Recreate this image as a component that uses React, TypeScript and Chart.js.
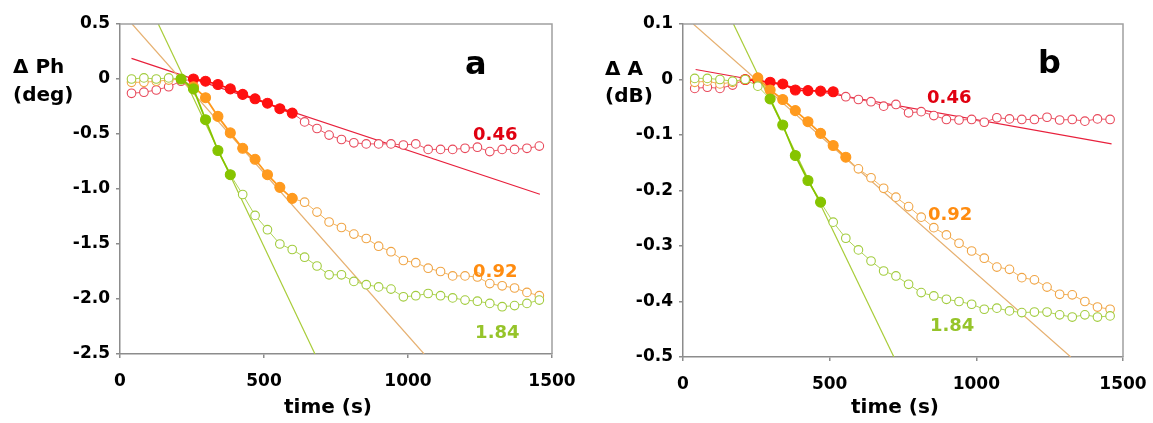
import React, { useEffect, useRef } from 'react';
import { Chart, registerables } from 'chart.js';

Chart.register(...registerables);

// ---------- data ----------
const times = [40, 83, 126, 169, 212, 255, 297, 340, 383, 426, 469, 512, 555, 598, 641, 684, 726, 769, 812, 855, 898, 941, 984, 1027, 1070, 1113, 1155, 1198, 1241, 1284, 1327, 1370, 1413, 1456];

const xTicks = [0, 500, 1000, 1500];
const yTicksA = [0.5, 0, -0.5, -1.0, -1.5, -2.0, -2.5];
const yTicksB = [0.1, 0, -0.1, -0.2, -0.3, -0.4, -0.5];

// panel a : phase change (deg)
const redA = [-0.13, -0.12, -0.10, -0.07, -0.02, 0.0, -0.02, -0.05, -0.09, -0.14, -0.18, -0.22, -0.27, -0.31,
  -0.39, -0.45, -0.51, -0.55, -0.58, -0.59, -0.59, -0.59, -0.60, -0.59, -0.64, -0.64, -0.64, -0.63, -0.62, -0.66, -0.64, -0.64, -0.63, -0.61];
const orangeA = [-0.03, -0.03, -0.02, -0.01, 0.0, -0.07, -0.17, -0.34, -0.49, -0.63, -0.73, -0.87, -0.985, -1.085,
  -1.12, -1.21, -1.30, -1.35, -1.41, -1.45, -1.52, -1.57, -1.65, -1.67, -1.72, -1.75, -1.79, -1.79, -1.80, -1.86, -1.88, -1.90, -1.94, -1.97];
const greenA = [0.0, 0.01, 0.0, 0.01, 0.0, -0.09, -0.37, -0.65, -0.87,
  -1.05, -1.24, -1.37, -1.50, -1.55, -1.62, -1.70, -1.78, -1.78, -1.84, -1.87, -1.89, -1.91, -1.98, -1.97, -1.95, -1.97, -1.99, -2.01, -2.02, -2.04, -2.07, -2.06, -2.04, -2.01];

const redFitRangeA = [5, 13];
const orangeFitRangeA = [5, 13];
const greenFitRangeA = [4, 8];

const redFitLineA = [[40, 0.188], [1458, -1.048]];
const orangeFitLineA = [[42, 0.5], [1056, -2.5]];
const greenFitLineA = [[133, 0.5], [677, -2.5]];

// panel b : amplitude change (dB)
const redB = [-0.016, -0.014, -0.016, -0.010, 0.0, -0.002, -0.005, -0.008, -0.019, -0.020, -0.021, -0.022,
  -0.031, -0.036, -0.040, -0.048, -0.045, -0.060, -0.058, -0.065, -0.072, -0.073, -0.072, -0.077, -0.069, -0.071, -0.072, -0.072, -0.068, -0.073, -0.072, -0.075, -0.071, -0.072];
const orangeB = [-0.005, -0.003, -0.008, -0.005, 0.0, 0.003, -0.019, -0.036, -0.056, -0.076, -0.097, -0.119, -0.140,
  -0.161, -0.177, -0.196, -0.212, -0.229, -0.248, -0.267, -0.280, -0.295, -0.309, -0.322, -0.338, -0.342, -0.357, -0.361, -0.374, -0.387, -0.388, -0.400, -0.410, -0.414];
const greenB = [0.002, 0.002, 0.0, -0.003, 0.0, -0.012, -0.035, -0.082, -0.137, -0.182, -0.221,
  -0.257, -0.286, -0.307, -0.327, -0.345, -0.354, -0.369, -0.384, -0.390, -0.396, -0.400, -0.405, -0.414, -0.412, -0.417, -0.420, -0.419, -0.419, -0.424, -0.428, -0.424, -0.428, -0.426];

const redFitRangeB = [4, 11];
const orangeFitRangeB = [5, 12];
const greenFitRangeB = [6, 10];

const redFitLineB = [[43, 0.018], [1461, -0.116]];
const orangeFitLineB = [[35, 0.1], [1322, -0.5]];
const greenFitLineB = [[172, 0.1], [719, -0.5]];

const seriesNames = ['0.46', '0.92', '1.84'];

// ---------- styles ----------
const RED = { filled: '#ff1010', open: '#e8485a', line: '#ea5a68', fit: '#e8203c', label: '#e00010' };
const ORANGE = { filled: '#ff9a1e', open: '#f0a444', line: '#f2b460', fit: '#e6b070', label: '#ff8c10' };
const GREEN = { filled: '#86c400', open: '#a2cc3e', line: '#b0d458', fit: '#a8cc38', label: '#96c42a' };

const FONT = '"DejaVu Sans", "Liberation Sans", Arial, sans-serif';
const AXIS = '#8c8c8c';

type Series = { values: number[]; range: number[]; fitLine: number[][]; style: typeof RED; order: number };
type Panel = {
  width: number; yWidth: number; padRight: number; padTop: number; xHeight: number;
  yMin: number; yMax: number; yTicks: number[];
  titleLines: { text: string; x: number; y: number }[];
  letter: { text: string; t: number; v: number };
  labelPos: { t: number; v: number }[];
  series: Series[];
};

const panelA: Panel = {
  width: 576, yWidth: 120, padRight: 24, padTop: 24, xHeight: 69,
  yMin: -2.5, yMax: 0.5, yTicks: yTicksA,
  titleLines: [{ text: '\u0394 Ph', x: 13, y: 73 }, { text: '(deg)', x: 13, y: 101 }],
  letter: { text: 'a', t: 1198, v: 0.05 },
  labelPos: [{ t: 1226, v: -0.555 }, { t: 1226, v: -1.80 }, { t: 1233, v: -2.355 }],
  series: [
    { values: redA, range: redFitRangeA, fitLine: redFitLineA, style: RED, order: 3 },
    { values: orangeA, range: orangeFitRangeA, fitLine: orangeFitLineA, style: ORANGE, order: 2 },
    { values: greenA, range: greenFitRangeA, fitLine: greenFitLineA, style: GREEN, order: 1 },
  ],
};

const panelB: Panel = {
  width: 577, yWidth: 107, padRight: 30, padTop: 24, xHeight: 66,
  yMin: -0.5, yMax: 0.1, yTicks: yTicksB,
  titleLines: [{ text: '\u0394 A', x: 29, y: 75 }, { text: '(dB)', x: 29, y: 102 }],
  letter: { text: 'b', t: 1210, v: 0.0114 },
  labelPos: [{ t: 832, v: -0.043 }, { t: 835, v: -0.254 }, { t: 842, v: -0.453 }],
  series: [
    { values: redB, range: redFitRangeB, fitLine: redFitLineB, style: RED, order: 3 },
    { values: orangeB, range: orangeFitRangeB, fitLine: orangeFitLineB, style: ORANGE, order: 2 },
    { values: greenB, range: greenFitRangeB, fitLine: greenFitLineB, style: GREEN, order: 1 },
  ],
};

function buildChart(canvas: HTMLCanvasElement, p: Panel) {
  const datasets: any[] = [];
  p.series.forEach((s) => {
    const isF = (i: number) => i >= s.range[0] && i <= s.range[1];
    datasets.push({
      type: 'line',
      data: times.map((t, i) => ({ x: t, y: s.values[i] })),
      borderColor: s.style.line,
      borderWidth: 1,
      tension: 0,
      fill: false,
      pointRadius: times.map((_, i) => (isF(i) ? 5 : 4.3)),
      pointHoverRadius: times.map((_, i) => (isF(i) ? 5 : 4.3)),
      pointBorderWidth: 1.1,
      pointBackgroundColor: times.map((_, i) => (isF(i) ? s.style.filled : '#ffffff')),
      pointBorderColor: times.map((_, i) => (isF(i) ? s.style.filled : s.style.open)),
      segment: {
        borderColor: (c: any) => (isF(c.p0DataIndex) && isF(c.p1DataIndex) ? s.style.filled : s.style.line),
        borderWidth: (c: any) => (isF(c.p0DataIndex) && isF(c.p1DataIndex) ? 1.8 : 1),
      },
      order: s.order,
    });
  });
  p.series.forEach((s) => {
    datasets.push({
      type: 'line',
      data: s.fitLine.map(([x, y]) => ({ x, y })),
      borderColor: s.style.fit,
      borderWidth: 1.2,
      pointRadius: 0,
      pointHoverRadius: 0,
      fill: false,
      order: 10 + s.order,
    });
  });

  const annot = {
    id: 'annot',
    afterDraw(chart: any) {
      const ctx = chart.ctx as CanvasRenderingContext2D;
      const { left, right, top, bottom } = chart.chartArea;
      const xs = chart.scales.x;
      const ys = chart.scales.y;
      ctx.save();
      ctx.strokeStyle = '#a0a0a0';
      ctx.lineWidth = 1.5;
      ctx.beginPath();
      ctx.moveTo(left, top);
      ctx.lineTo(right, top);
      ctx.lineTo(right, bottom);
      ctx.stroke();

      ctx.fillStyle = '#000';
      ctx.textBaseline = 'alphabetic';
      ctx.textAlign = 'left';
      ctx.font = `bold 20px ${FONT}`;
      p.titleLines.forEach((l) => ctx.fillText(l.text, l.x, l.y));

      ctx.textAlign = 'center';
      ctx.fillText('time (s)', (left + right) / 2 - 8, 413);

      ctx.textAlign = 'left';
      ctx.font = `bold 32px ${FONT}`;
      ctx.fillText(p.letter.text, xs.getPixelForValue(p.letter.t), ys.getPixelForValue(p.letter.v));

      ctx.font = `bold 18px ${FONT}`;
      p.series.forEach((s, k) => {
        ctx.fillStyle = s.style.label;
        const lp = p.labelPos[k];
        ctx.fillText(seriesNames[k], xs.getPixelForValue(lp.t), ys.getPixelForValue(lp.v));
      });
      ctx.restore();
    },
  };

  const tickFont = { family: FONT, size: 17, weight: 'bold' as const };

  return new Chart(canvas, {
    type: 'line',
    data: { datasets },
    plugins: [annot],
    options: {
      animation: false,
      responsive: false,
      maintainAspectRatio: false,
      events: [],
      layout: { padding: { left: 0, right: p.padRight, top: p.padTop, bottom: 0 } },
      plugins: { legend: { display: false }, tooltip: { enabled: false } },
      scales: {
        x: {
          type: 'linear',
          min: 0,
          max: 1500,
          afterBuildTicks: (s: any) => { s.ticks = xTicks.map((v) => ({ value: v })); },
          afterFit: (s: any) => { s.height = p.xHeight; s.paddingLeft = 0; s.paddingRight = 0; },
          ticks: { font: tickFont, color: '#000', padding: 13, maxRotation: 0, callback: (v: any) => String(v) },
          grid: { display: true, drawOnChartArea: false, drawTicks: true, tickLength: 4, color: AXIS, lineWidth: 1.5 },
          border: { display: true, color: AXIS, width: 1.5 },
        },
        y: {
          type: 'linear',
          min: p.yMin,
          max: p.yMax,
          afterBuildTicks: (s: any) => { s.ticks = p.yTicks.map((v) => ({ value: v })); },
          afterFit: (s: any) => { s.width = p.yWidth; s.paddingTop = 0; s.paddingBottom = 0; },
          ticks: {
            font: tickFont,
            color: '#000',
            padding: 6,
            callback: (v: any) => (Math.abs(Number(v)) < 1e-9 ? '0' : Number(v).toFixed(1)),
          },
          grid: { display: true, drawOnChartArea: false, drawTicks: true, tickLength: 4, color: AXIS, lineWidth: 1.5 },
          border: { display: true, color: AXIS, width: 1.5 },
        },
      },
    } as any,
  });
}

function PanelChart({ panel, left }: { panel: Panel; left: number }) {
  const ref = useRef<HTMLCanvasElement | null>(null);
  useEffect(() => {
    if (!ref.current) return;
    const chart = buildChart(ref.current, panel);
    return () => chart.destroy();
  }, [panel]);
  return (
    <canvas
      ref={ref}
      width={panel.width}
      height={423}
      style={{ position: 'absolute', left, top: 0, width: panel.width, height: 423 }}
    />
  );
}

export default function App() {
  return (
    <div style={{ position: 'absolute', left: 0, top: 0, width: 1153, height: 423, background: '#fff', overflow: 'hidden' }}>
      <PanelChart panel={panelA} left={0} />
      <PanelChart panel={panelB} left={576} />
    </div>
  );
}
